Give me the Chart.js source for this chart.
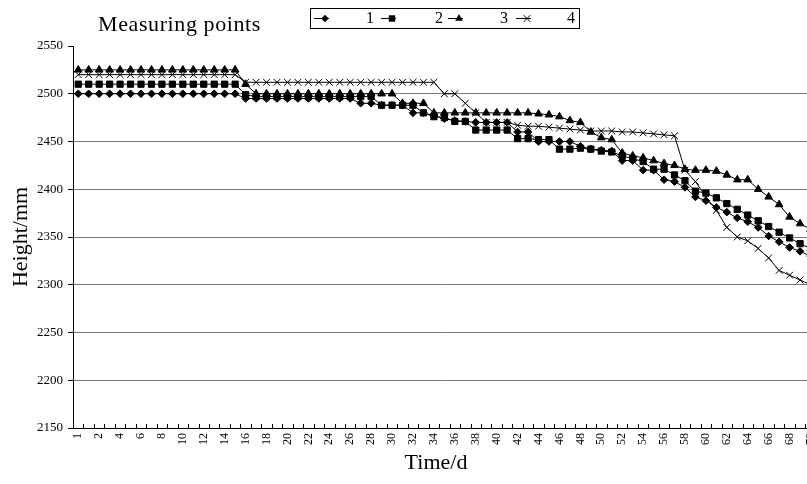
<!DOCTYPE html>
<html><head><meta charset="utf-8">
<script src="https://cdn.jsdelivr.net/npm/chart.js@4.4.0/dist/chart.umd.min.js"></script>
<style>
html,body{margin:0;padding:0;overflow:hidden;background:#fff;width:807px;height:484px}
#wrap{width:830px;height:484px}
canvas{display:block}
</style>
</head><body><div id="wrap"><canvas id="c" width="830" height="484"></canvas></div>
<script>
// categories (measurement index) and the visible tick labels (every other category)
const days = ['0','1','2','3','4','5','6','7','8','9','10','11','12','13','14','15','16','17','18','19','20',
  '21','22','23','24','25','26','27','28','29','30','31','32','33','34','35','36','37','38','39','40',
  '41','42','43','44','45','46','47','48','49','50','51','52','53','54','55','56','57','58','59','60',
  '61','62','63','64','65','66','67','68','69','70'];
const xTickLabels = ['1','2','4','6','8','10','12','14','16','18','20','22','24','26','28','30','32','34',
  '36','38','40','42','44','46','48','50','52','54','56','58','60','62','64','66','68','70'];
const yTicks = [2150,2200,2250,2300,2350,2400,2450,2500,2550];
const seriesNames = ['1','2','3','4'];

const s1 = [2500,2500,2500,2500,2500,2500,2500,2500,2500,2500,2500,2500,2500,2500,2500,2500,
  2495,2495,2495,2495,2495,2495,2495,2495,2495,2495,2495,
  2490,2490,2488,2488,2488,2480,2480,2477,2474,2472,2471,2470,2470,2470,2470,2460,2460,
  2450,2450,2450,2450,2445,2442,2441,2440,
  2430,2430,2420,2420,2410,2408,2402,2392,2388,2381,2376,2370,2366,2360,2351,2345,2339,2335,2330];
const s2 = [2510,2510,2510,2510,2510,2510,2510,2510,2510,2510,2510,2510,2510,2510,2510,2510,
  2499,2497,2497,2497,2497,2497,2497,2497,2497,2497,2497,2497,2497,
  2488,2488,2488,2488,2480,2476,2475,2471,2471,2462,2462,2462,2462,2453,2453,2452,2452,2442,2442,
  2443,2442,2440,2439,
  2435,2432,2429,2421,2421,2415,2409,2398,2396,2391,2385,2379,2373,2367,2361,2355,2349,2343,2338];
const s3 = [2525,2525,2525,2525,2525,2525,2525,2525,2525,2525,2525,2525,2525,2525,2525,2525,
  2510,2500,2500,2500,2500,2500,2500,2500,2500,2500,2500,2500,2500,2500,2500,
  2490,2490,2490,2480,2480,2480,2480,2480,2480,2480,2480,2480,2480,
  2479,2478,2476,2472,2470,2460,2454,2452,
  2438,2435,2433,2430,2427,2425,2421,2420,2420,2419,2415,2410,2410,2400,2392,2384,2371,2364,2358];
const s4 = [2520,2520,2520,2520,2520,2520,2520,2520,2520,2520,2520,2520,2520,2520,2520,2520,
  2512,2512,2512,2512,2512,2512,2512,2512,2512,2512,2512,2512,2512,2512,2512,2512,2512,2512,2512,
  2500,2500,2490,2480,2470,2470,2470,
  2467,2466,2466,2465,2464,2463,2462,2461,2461,2461,2460,2460,2459,2458,2457,2456,
  2420,2408,2392,2378,2360,2350,2346,2338,2328,2315,2310,2305,2300];

const W = 830, H = 484, LEFT = 73, TOP = 46, BOTTOM = 428, RIGHT = 817;
const SERIF = "'Liberation Serif', 'DejaVu Serif', serif";

const styles = [
  {pointStyle:'rectRot', radius:3.8},
  {pointStyle:'rect', radius:4.4},
  {pointStyle:'triangle', radius:4.4},
  {pointStyle:'crossRot', radius:4.8}
];
const values = [s1, s2, s3, s4];

function drawMarker(ctx, style, x, y){
  ctx.save();
  ctx.fillStyle = '#000'; ctx.strokeStyle = '#000'; ctx.lineWidth = 1;
  ctx.beginPath();
  if (style === 'rectRot'){ ctx.moveTo(x, y-3.8); ctx.lineTo(x+3.8, y); ctx.lineTo(x, y+3.8); ctx.lineTo(x-3.8, y); ctx.closePath(); ctx.fill(); }
  else if (style === 'rect'){ ctx.fillRect(x-3.2, y-3.2, 6.4, 6.4); }
  else if (style === 'triangle'){ ctx.moveTo(x, y-4.4); ctx.lineTo(x+3.9, y+2.2); ctx.lineTo(x-3.9, y+2.2); ctx.closePath(); ctx.fill(); }
  else { ctx.moveTo(x-3.4, y-3.4); ctx.lineTo(x+3.4, y+3.4); ctx.moveTo(x+3.4, y-3.4); ctx.lineTo(x-3.4, y+3.4); ctx.stroke(); }
  ctx.restore();
}

const decor = {
  id: 'decor',
  afterDraw(chart){
    const ctx = chart.ctx;
    const xs = chart.scales.x;
    const ca = chart.chartArea;
    ctx.save();
    // inside tick marks on the category axis, at category boundaries
    const cw = xs.getPixelForValue(1) - xs.getPixelForValue(0);
    ctx.strokeStyle = '#000'; ctx.lineWidth = 1;
    ctx.beginPath();
    for (let k = 0; k <= days.length; k++){
      const x = Math.round(xs.getPixelForValue(0) - cw/2 + k*cw) + 0.5;
      ctx.moveTo(x, ca.bottom); ctx.lineTo(x, ca.bottom - 4);
    }
    ctx.stroke();

    // chart title text
    ctx.fillStyle = '#000';
    ctx.font = '22px ' + SERIF;
    ctx.textBaseline = 'middle'; ctx.textAlign = 'left';
    if ('letterSpacing' in ctx) ctx.letterSpacing = '0.6px';
    ctx.fillText('Measuring points', 98, 25);
    if ('letterSpacing' in ctx) ctx.letterSpacing = '0px';

    // axis titles
    ctx.textAlign = 'center';
    ctx.fillText('Time/d', 436, 463);
    ctx.save();
    ctx.translate(21, 237); ctx.rotate(-Math.PI/2);
    ctx.fillText('Height/mm', 0, 0);
    ctx.restore();

    // legend
    ctx.strokeStyle = '#000'; ctx.lineWidth = 1;
    ctx.strokeRect(310.5, 8.5, 269, 20);
    const markerX = [325, 392, 459, 527];
    const textEnd = [374, 443, 508, 575];
    const ly = 18.5;
    ctx.font = '16px ' + SERIF;
    ctx.textAlign = 'right';
    for (let i = 0; i < 4; i++){
      ctx.beginPath();
      ctx.moveTo(markerX[i]-11, ly); ctx.lineTo(markerX[i]+4, ly);
      ctx.stroke();
      drawMarker(ctx, styles[i].pointStyle, markerX[i], ly);
      ctx.fillText(seriesNames[i], textEnd[i], 19);
    }
    ctx.restore();
  }
};

new Chart(document.getElementById('c'), {
  type: 'line',
  data: {
    labels: days,
    datasets: values.map((v, i) => ({
      label: seriesNames[i],
      data: v,
      borderColor: '#000',
      backgroundColor: '#000',
      borderWidth: 1,
      pointStyle: styles[i].pointStyle,
      pointRadius: styles[i].radius,
      pointHoverRadius: styles[i].radius,
      pointBackgroundColor: '#000',
      pointBorderColor: '#000',
      pointBorderWidth: 1,
      tension: 0,
      fill: false,
      order: 3 - i
    }))
  },
  options: {
    responsive: false,
    animation: false,
    devicePixelRatio: 1,
    layout: { padding: { left: 0, top: TOP, right: W - RIGHT, bottom: 0 } },
    plugins: { legend: { display: false }, title: { display: false }, tooltip: { enabled: false } },
    scales: {
      x: {
        type: 'category',
        offset: true,
        grid: { display: false, drawTicks: false },
        border: { display: true, color: '#000', width: 1 },
        ticks: {
          autoSkip: false, maxRotation: 90, minRotation: 90, padding: 5,
          color: '#000', font: { family: SERIF, size: 12 },
          callback: (val, idx) => (idx % 2 === 0 ? xTickLabels[idx / 2] : '')
        },
        afterFit: (s) => { s.height = H - BOTTOM; }
      },
      y: {
        min: yTicks[0], max: yTicks[yTicks.length - 1],
        afterBuildTicks: (s) => { s.ticks = yTicks.map(v => ({ value: v })); },
        grid: {
          color: (c) => (c.tick && c.tick.value === 2550 ? 'rgba(0,0,0,0)' : '#7a7a7a'),
          tickColor: '#000', tickLength: 5, lineWidth: 1
        },
        border: { display: true, color: '#000', width: 1 },
        ticks: {
          color: '#000', padding: 5, font: { family: SERIF, size: 13 },
          callback: (v) => String(v)
        },
        afterFit: (s) => { s.width = LEFT; }
      }
    }
  },
  plugins: [decor]
});
</script>
</body></html>
